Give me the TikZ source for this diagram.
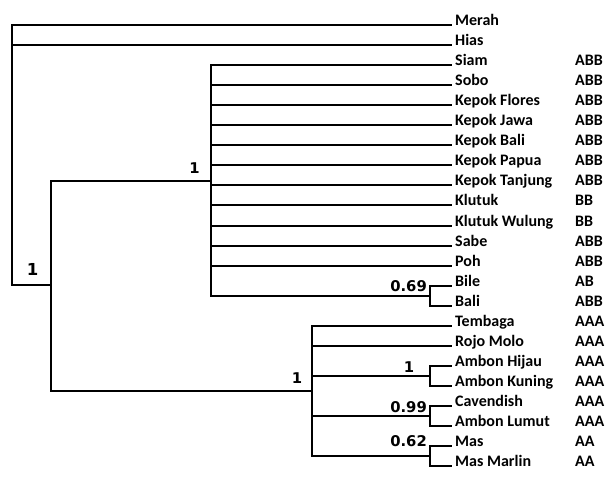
\documentclass[tikz,border=0pt]{standalone}
\usepackage{fontspec}
\setmainfont{Carlito}
\newfontfamily\numfont{DejaVu Sans}
\begin{document}
\begin{tikzpicture}[x=1pt,y=-1pt,
  br/.style={line width=2pt, line join=miter},
  leaf/.style={anchor=base west, inner sep=0pt, font=\fontsize{16}{18}\selectfont\bfseries},
  supp/.style={inner sep=0pt, font=\numfont\bfseries\fontsize{14.8}{17}\selectfont},
  suppbig/.style={inner sep=0pt, font=\numfont\bfseries\fontsize{16.5}{19}\selectfont}]
\useasboundingbox[fill=white] (0,0) rectangle (606,477);

% leaves without genome
\foreach \i/\nm in {0/Merah,1/Hias} {
  \coordinate (L\i) at (452,{25+20.05*\i});
  \node[leaf] (T\i) at (455,{25.5+20.05*\i}) {\nm};
}
% leaves with genome
\foreach \i/\nm/\g in {2/Siam/ABB,3/Sobo/ABB,4/Kepok Flores/ABB,5/Kepok Jawa/ABB,
  6/Kepok Bali/ABB,7/Kepok Papua/ABB,8/Kepok Tanjung/ABB,9/Klutuk/BB,
  10/Klutuk Wulung/BB,11/Sabe/ABB,12/Poh/ABB,13/Bile/AB,14/Bali/ABB,
  15/Tembaga/AAA,16/Rojo Molo/AAA,17/Ambon Hijau/AAA,18/Ambon Kuning/AAA,
  19/Cavendish/AAA,20/Ambon Lumut/AAA,21/Mas/AA,22/Mas Marlin/AA} {
  \coordinate (L\i) at (452,{25+20.05*\i});
  \node[leaf] (T\i) at (455,{25.5+20.05*\i}) {\nm};
  \node[leaf] (G\i) at (575,{25.5+20.05*\i}) {\g};
}

% internal nodes
\coordinate (nRoot) at (12,155);
\coordinate (nIn) at (51,285);
\coordinate (nABB) at (211,181);
\coordinate (nBB) at (430,295.7);
\coordinate (nAAA) at (312,391);
\coordinate (nAmb) at (430,375.9);
\coordinate (nCav) at (430,416);
\coordinate (nMas) at (430,456.1);

% connectors
\draw[br] (nRoot) |- (L0);
\draw[br] (nRoot) |- (L1);
\draw[br] (nRoot) |- (nIn);
\draw[br] (nIn) |- (nABB);
\draw[br] (nIn) |- (nAAA);
\foreach \i in {2,...,12} { \draw[br] (nABB) |- (L\i); }
\draw[br] (nABB) |- (nBB);
\draw[br] (nBB) |- (L13);
\draw[br] (nBB) |- (L14);
\draw[br] (nAAA) |- (L15);
\draw[br] (nAAA) |- (L16);
\draw[br] (nAAA) |- (nAmb);
\draw[br] (nAAA) |- (nCav);
\draw[br] (nAAA) |- (nMas);
\draw[br] (nAmb) |- (L17);
\draw[br] (nAmb) |- (L18);
\draw[br] (nCav) |- (L19);
\draw[br] (nCav) |- (L20);
\draw[br] (nMas) |- (L21);
\draw[br] (nMas) |- (L22);

% support values
\node[suppbig, anchor=base] (sRoot) at (32.5,275) {1};
\node[supp, anchor=base] (sABB) at (194.5,173) {1};
\node[supp, anchor=base] (sAAA) at (297,383) {1};
\node[supp, anchor=base east] (sBB) at (427,291) {0.69};
\node[supp, anchor=base] (sAmb) at (409,372) {1};
\node[supp, anchor=base east] (sCav) at (427,412) {0.99};
\node[supp, anchor=base east] (sMas) at (427,446) {0.62};
\end{tikzpicture}
\end{document}
